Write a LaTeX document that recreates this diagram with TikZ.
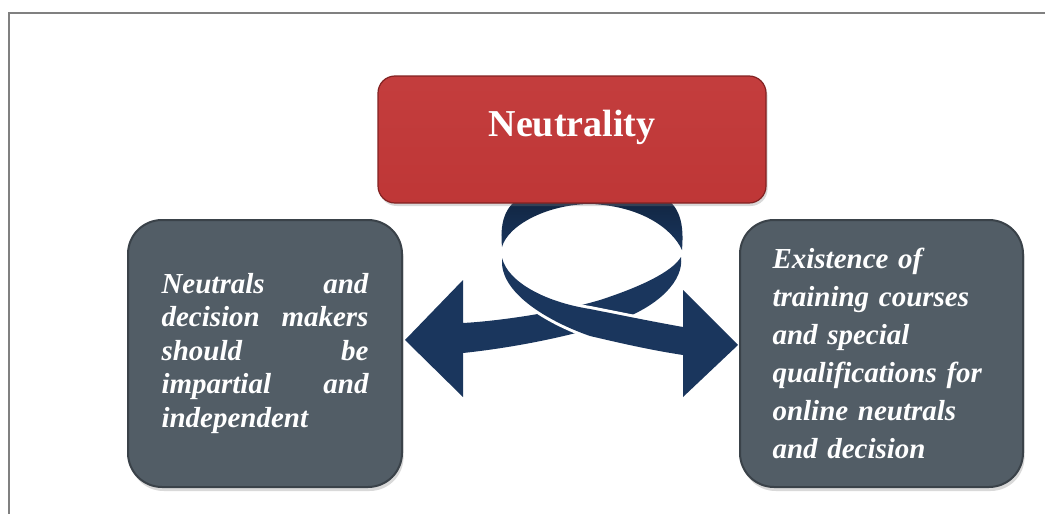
\documentclass[tikz,border=0pt]{standalone}
\usepackage{xcolor}
\usepackage{fontspec}
\setmainfont{Liberation Serif}
\usepackage{tikz}
\usetikzlibrary{positioning, shadows}
\definecolor{mynavy}{RGB}{26,54,93}
\definecolor{navydark}{RGB}{16,36,64}
\definecolor{redtop}{RGB}{196,62,62}
\definecolor{redmid}{RGB}{190,54,54}
\definecolor{redlow}{RGB}{226,102,100}
\definecolor{reddark}{RGB}{130,34,34}
\definecolor{slatemid}{RGB}{82,93,102}
\definecolor{slateedge}{RGB}{58,66,73}
\definecolor{framegray}{RGB}{128,128,128}
\pgfdeclareverticalshading{redgloss}{100bp}{color(0bp)=(redlow); color(12bp)=(redlow);
  color(22bp)=(redmid); color(80bp)=(redtop); color(100bp)=(redtop)}
\tikzset{
  redbox/.style={rectangle, draw=reddark, line width=0.6pt, shading=redgloss,
    minimum width=194pt, minimum height=63.5pt, rounded corners=8.5pt,
    drop shadow={opacity=0.3, shadow xshift=0.8pt, shadow yshift=-1.5pt}},
  titletxt/.style={text=white, font=\fontsize{19}{22}\selectfont\bfseries},
  slatebox/.style={rectangle, draw=slateedge, line width=1pt, fill=slatemid,
    minimum height=133.5pt, rounded corners=17pt, align=left,
    text=white, drop shadow={opacity=0.3, shadow xshift=0.8pt, shadow yshift=-2pt}},
  ribbon/.style={fill=mynavy},
  topband/.style={top color=navydark, bottom color=mynavy}
}

\begin{document}
\begin{tikzpicture}[x=0.5pt, y=-0.5pt]
  \useasboundingbox (0,0) rectangle (1045,514);
  % outer frame
  \coordinate (fbl) at (8.5,514);
  \coordinate (ftl) at (8.5,12.5);
  \coordinate (ftr) at (1045,12.5);
  \draw[framegray, line width=1pt] (fbl) -- (ftl) -- (ftr);

  % back of the ring
  \path[topband] (502,247) .. controls (500,225) and (503,205) .. (525,195)
    -- (660,195) .. controls (681,205) and (684,225) .. (682,250)
    .. controls (672,228) and (640,206) .. (591,204)
    .. controls (548,204) and (508,225) .. (502,247) -- cycle;

  % left arrow running under the front band
  \fill[ribbon] (405,340) -- (463,280) -- (463,323)
    .. controls (500,321) and (560,312) .. (600,300)
    .. controls (640,287) and (672,272) .. (681,257)
    .. controls (684,280) and (660,305) .. (620,320)
    .. controls (580,334) and (520,347) .. (463,353)
    -- (463,397) -- cycle;

  % front band and right arrow
  \fill[ribbon, preaction={draw=white, line width=3pt}] (502,258)
    .. controls (508,282) and (545,302) .. (590,309)
    .. controls (625,316) and (660,323) .. (683,327)
    -- (683,290) -- (738,345) -- (683,397) -- (683,355)
    .. controls (650,350) and (620,343) .. (590,336)
    .. controls (550,322) and (503,295) .. (502,263) -- cycle;

  % boxes
  \node[redbox] (neut) at (572,139.5) {};
  \node[titletxt] (neutlbl) at ([yshift=6.25pt]neut.center) {Neutrality};

  \node[slatebox, text width=103.5pt, inner xsep=16.75pt,
    font=\fontsize{14.5}{16.75}\selectfont\bfseries\itshape] (impartial) at (265,353.5)
    {Neutrals\hfill and\\ decision\hfill makers\\ should\hfill be\\ impartial\hfill and\\ independent};
  \node[slatebox, text width=109pt, inner xsep=16.25pt,
    font=\fontsize{14.5}{19}\selectfont\bfseries\itshape] (training) at (881.5,353.5)
    {Existence of\\ training courses\\ and special\\ qualifications for\\ online neutrals\\ and decision};
\end{tikzpicture}
\end{document}
